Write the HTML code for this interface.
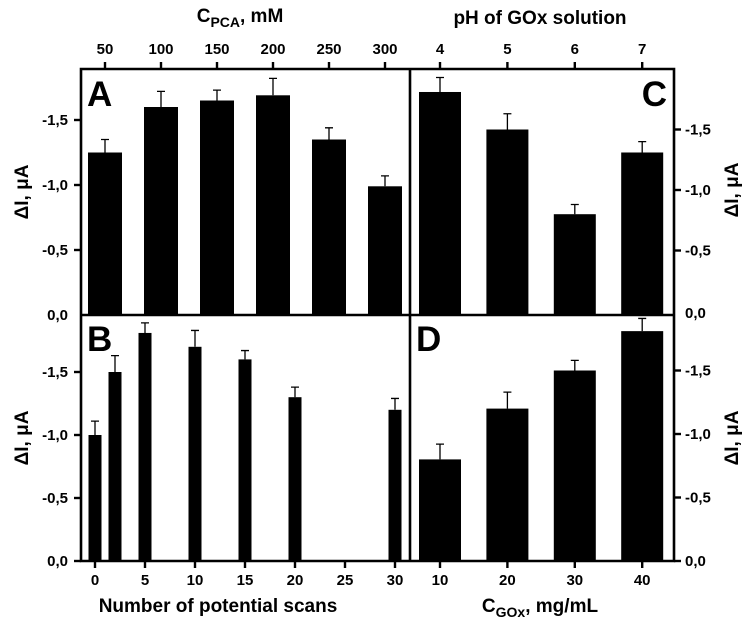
<!DOCTYPE html>
<html><head><meta charset="utf-8"><style>
html,body{margin:0;padding:0;background:#fff}
svg{display:block;font-family:"Liberation Sans",Arial,sans-serif;font-weight:bold}
</style></head><body>
<svg id="c" width="749" height="632"></svg>
<script>
// Panel A: C_PCA
const catsA=[50,100,150,200,250,300];
const valsA=[1.25,1.6,1.65,1.69,1.35,0.99];
const errA=[0.10,0.12,0.08,0.13,0.09,0.08];
// Panel B: scans
const catsB=[0,2,5,10,15,20,30];
const valsB=[1.0,1.5,1.81,1.7,1.6,1.3,1.2];
const errB=[0.11,0.13,0.08,0.13,0.07,0.08,0.09];
const ticksB=[0,5,10,15,20,25,30];
// Panel C: pH
const catsC=[4,5,6,7];
const valsC=[1.81,1.5,0.8,1.31];
const errC=[0.12,0.13,0.08,0.09];
// Panel D: C_GOx
const catsD=[10,20,30,40];
const valsD=[0.8,1.2,1.5,1.81];
const errD=[0.12,0.13,0.08,0.1];
const yTicks=[0,0.5,1.0,1.5];
const yTickLabels=["0,0","-0,5","-1,0","-1,5"];

const NS="http://www.w3.org/2000/svg";
const svg=document.getElementById('c');
function mk(t,a,p){const e=document.createElementNS(NS,t);for(const k in a)e.setAttribute(k,a[k]);(p||svg).appendChild(e);return e;}
const L=81,R=674,T=69,M=315,B=561,MX=410;

const xA=v=>105+(v-50)*1.12;
const yA=v=>M-v*130;
const xB=v=>95+v*10;
const yB=v=>B-v*126;
const xC=v=>440+(v-4)*67.4;
const yC=v=>311-v*121;
const xD=v=>440+(v-10)*6.74;
const yD=v=>B-v*127;

function bars(cats,vals,errs,xf,yf,w,y0,name){
  const g=mk('g',{});
  
  
  cats.forEach((c,i)=>{
    const x=xf(c),y=yf(vals[i]),ye=yf(vals[i]+errs[i]);
    const r=mk('rect',{x:x-w/2,y:y,width:w,height:y0-y,fill:'#000'},g);
    
    
    const e=mk('path',{d:`M${x},${y}V${ye}M${x-4},${ye}H${x+4}`,stroke:'#000','stroke-width':1.3,fill:'none'},g);
    
    
  });
}
bars(catsA,valsA,errA,xA,yA,34,M,'panel-a');
bars(catsB,valsB,errB,xB,yB,13,B,'panel-b');
bars(catsC,valsC,errC,xC,yC,42,M,'panel-c');
bars(catsD,valsD,errD,xD,yD,42,B,'panel-d');

const fr=mk('path',{d:`M${L},${T}H${R}V${B}H${L}Z M${L},${M}H${R} M${MX},${T}V${B}`,stroke:'#000','stroke-width':2.6,fill:'none'});



function txt(s,x,y,size,anchor,name,rot){
  const a={x:x,y:y,'font-size':size,'text-anchor':anchor||'middle',fill:'#000'};
  if(rot)a.transform=`rotate(${rot} ${x} ${y})`;
  const t=mk('text',a);t.textContent=s;
  
  
  return t;
}
function tick(x1,y1,x2,y2){mk('line',{x1,y1,x2,y2,stroke:'#000','stroke-width':2.4});}

yTicks.forEach((v,i)=>{
  if(v>0){tick(L-7,yA(v),L,yA(v));txt(yTickLabels[i],68,yA(v)+5,15,'end','y-tick-a');}
  tick(L-7,yB(v),L,yB(v));txt(yTickLabels[i],68,yB(v)+5,15,'end','y-tick-b');
  if(v>0){tick(R,yC(v),R+7,yC(v));txt(yTickLabels[i],685,yC(v)+5,15,'start','y-tick-c');}
  tick(R,yD(v),R+7,yD(v));txt(yTickLabels[i],685,yD(v)+5,15,'start','y-tick-d');
});
txt("0,0",68,M+5,15,'end','y-tick-a-zero');
txt("0,0",685,M+3,15,'start','y-tick-c-zero');

catsA.forEach(v=>{tick(xA(v),T-7,xA(v),T);txt(String(v),xA(v),54,15,'middle','x-top-tick-a');});
catsC.forEach(v=>{tick(xC(v),T-7,xC(v),T);txt(String(v),xC(v),54,15,'middle','x-top-tick-c');});
ticksB.forEach(v=>{tick(xB(v),B,xB(v),B+7);txt(String(v),xB(v),585,15,'middle','x-bottom-tick-b');});
catsD.forEach(v=>{tick(xD(v),B,xD(v),B+7);txt(String(v),xD(v),585,15,'middle','x-bottom-tick-d');});

let t=txt("",240,22,19,'middle','top-left-axis-title');
t.innerHTML='C<tspan font-size="14" dy="5">PCA</tspan><tspan dy="-5">, mM</tspan>';
txt("pH of GOx solution",540,24,19,'middle','top-right-axis-title');
txt("Number of potential scans",218,612,19,'middle','bottom-left-axis-title');
t=txt("",540,612,19,'middle','bottom-right-axis-title');
t.innerHTML='C<tspan font-size="14" dy="5">GOx</tspan><tspan dy="-5">, mg/mL</tspan>';
txt("ΔI, μA",28,192,19,'middle','y-axis-title-a',-90);
txt("ΔI, μA",28,438,19,'middle','y-axis-title-b',-90);
txt("ΔI, μA",738,190,19,'middle','y-axis-title-c',-90);
txt("ΔI, μA",738,438,19,'middle','y-axis-title-d',-90);

txt("A",87,106,35,'start','panel-label-a');
txt("B",87,351,35,'start','panel-label-b');
txt("C",667,106,35,'end','panel-label-c');
txt("D",416,351,35,'start','panel-label-d');
</script>
</body></html>
